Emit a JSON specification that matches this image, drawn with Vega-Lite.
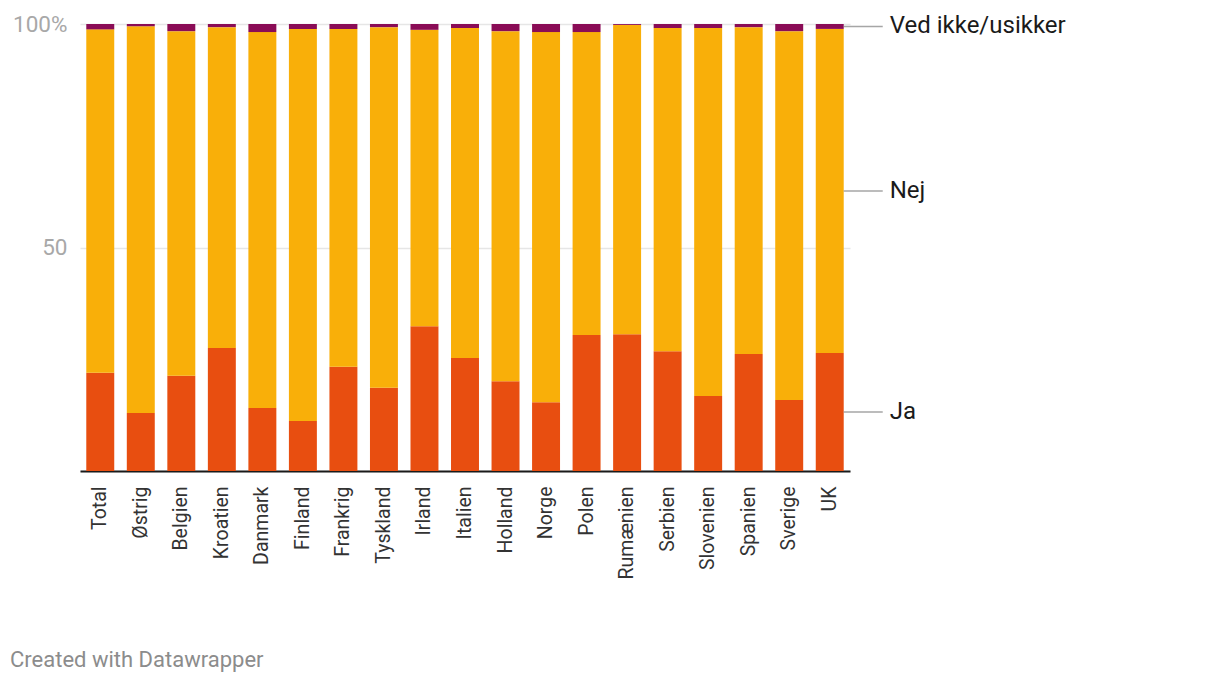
{
  "$schema": "https://vega.github.io/schema/vega-lite/v6.json",
  "width": 770,
  "height": 447,
  "autosize": "none",
  "padding": {"left": 80, "top": 24, "right": 370, "bottom": 211},
  "background": "white",
  "config": {"view": {"stroke": null}, "font": "Roboto"},
  "title": {
    "text": "Created with Datawrapper",
    "orient": "bottom",
    "anchor": "start",
    "frame": "group",
    "dx": -70,
    "offset": 71,
    "fontSize": 22,
    "fontWeight": "normal",
    "font": "Roboto",
    "color": "#8c8c8c"
  },
  "datasets": {
    "main": [
      {"land": "Total", "svar": "Ja", "pct": 22.0, "rank": 1},
      {"land": "Total", "svar": "Nej", "pct": 76.8, "rank": 2},
      {"land": "Total", "svar": "Ved ikke/usikker", "pct": 1.2, "rank": 3},
      {"land": "Østrig", "svar": "Ja", "pct": 13.0, "rank": 1},
      {"land": "Østrig", "svar": "Nej", "pct": 86.5, "rank": 2},
      {"land": "Østrig", "svar": "Ved ikke/usikker", "pct": 0.5, "rank": 3},
      {"land": "Belgien", "svar": "Ja", "pct": 21.3, "rank": 1},
      {"land": "Belgien", "svar": "Nej", "pct": 77.1, "rank": 2},
      {"land": "Belgien", "svar": "Ved ikke/usikker", "pct": 1.6, "rank": 3},
      {"land": "Kroatien", "svar": "Ja", "pct": 27.5, "rank": 1},
      {"land": "Kroatien", "svar": "Nej", "pct": 71.8, "rank": 2},
      {"land": "Kroatien", "svar": "Ved ikke/usikker", "pct": 0.7, "rank": 3},
      {"land": "Danmark", "svar": "Ja", "pct": 14.1, "rank": 1},
      {"land": "Danmark", "svar": "Nej", "pct": 84.1, "rank": 2},
      {"land": "Danmark", "svar": "Ved ikke/usikker", "pct": 1.8, "rank": 3},
      {"land": "Finland", "svar": "Ja", "pct": 11.2, "rank": 1},
      {"land": "Finland", "svar": "Nej", "pct": 87.7, "rank": 2},
      {"land": "Finland", "svar": "Ved ikke/usikker", "pct": 1.1, "rank": 3},
      {"land": "Frankrig", "svar": "Ja", "pct": 23.3, "rank": 1},
      {"land": "Frankrig", "svar": "Nej", "pct": 75.6, "rank": 2},
      {"land": "Frankrig", "svar": "Ved ikke/usikker", "pct": 1.1, "rank": 3},
      {"land": "Tyskland", "svar": "Ja", "pct": 18.6, "rank": 1},
      {"land": "Tyskland", "svar": "Nej", "pct": 80.7, "rank": 2},
      {"land": "Tyskland", "svar": "Ved ikke/usikker", "pct": 0.7, "rank": 3},
      {"land": "Irland", "svar": "Ja", "pct": 32.4, "rank": 1},
      {"land": "Irland", "svar": "Nej", "pct": 66.3, "rank": 2},
      {"land": "Irland", "svar": "Ved ikke/usikker", "pct": 1.3, "rank": 3},
      {"land": "Italien", "svar": "Ja", "pct": 25.3, "rank": 1},
      {"land": "Italien", "svar": "Nej", "pct": 73.8, "rank": 2},
      {"land": "Italien", "svar": "Ved ikke/usikker", "pct": 0.9, "rank": 3},
      {"land": "Holland", "svar": "Ja", "pct": 20.1, "rank": 1},
      {"land": "Holland", "svar": "Nej", "pct": 78.3, "rank": 2},
      {"land": "Holland", "svar": "Ved ikke/usikker", "pct": 1.6, "rank": 3},
      {"land": "Norge", "svar": "Ja", "pct": 15.4, "rank": 1},
      {"land": "Norge", "svar": "Nej", "pct": 82.8, "rank": 2},
      {"land": "Norge", "svar": "Ved ikke/usikker", "pct": 1.8, "rank": 3},
      {"land": "Polen", "svar": "Ja", "pct": 30.4, "rank": 1},
      {"land": "Polen", "svar": "Nej", "pct": 67.8, "rank": 2},
      {"land": "Polen", "svar": "Ved ikke/usikker", "pct": 1.8, "rank": 3},
      {"land": "Rumænien", "svar": "Ja", "pct": 30.6, "rank": 1},
      {"land": "Rumænien", "svar": "Nej", "pct": 69.2, "rank": 2},
      {"land": "Rumænien", "svar": "Ved ikke/usikker", "pct": 0.2, "rank": 3},
      {"land": "Serbien", "svar": "Ja", "pct": 26.8, "rank": 1},
      {"land": "Serbien", "svar": "Nej", "pct": 72.3, "rank": 2},
      {"land": "Serbien", "svar": "Ved ikke/usikker", "pct": 0.9, "rank": 3},
      {"land": "Slovenien", "svar": "Ja", "pct": 16.8, "rank": 1},
      {"land": "Slovenien", "svar": "Nej", "pct": 82.3, "rank": 2},
      {"land": "Slovenien", "svar": "Ved ikke/usikker", "pct": 0.9, "rank": 3},
      {"land": "Spanien", "svar": "Ja", "pct": 26.2, "rank": 1},
      {"land": "Spanien", "svar": "Nej", "pct": 73.1, "rank": 2},
      {"land": "Spanien", "svar": "Ved ikke/usikker", "pct": 0.7, "rank": 3},
      {"land": "Sverige", "svar": "Ja", "pct": 15.9, "rank": 1},
      {"land": "Sverige", "svar": "Nej", "pct": 82.5, "rank": 2},
      {"land": "Sverige", "svar": "Ved ikke/usikker", "pct": 1.6, "rank": 3},
      {"land": "UK", "svar": "Ja", "pct": 26.4, "rank": 1},
      {"land": "UK", "svar": "Nej", "pct": 72.5, "rank": 2},
      {"land": "UK", "svar": "Ved ikke/usikker", "pct": 1.1, "rank": 3}
    ],
    "labels": [
      {"land": "UK", "svar": "Ja", "pos": 13.2},
      {"land": "UK", "svar": "Nej", "pos": 62.65},
      {"land": "UK", "svar": "Ved ikke/usikker", "pos": 99.45}
    ]
  },
  "layer": [
    {
      "data": {"name": "main"},
      "mark": {"type": "bar"},
      "encoding": {
        "x": {
          "field": "land",
          "type": "nominal",
          "sort": null,
          "scale": {"paddingInner": 0.31, "paddingOuter": 0.155},
          "axis": {
            "title": null,
            "labelAngle": -90,
            "labelAlign": "right",
            "labelBaseline": "middle",
            "labelFontSize": 19.5,
            "labelFont": "Roboto",
            "labelColor": "#333333",
            "labelPadding": 15,
            "ticks": false,
            "domainColor": "#1a1a1a",
            "domainWidth": 2
          }
        },
        "y": {
          "field": "pct",
          "type": "quantitative",
          "stack": "zero",
          "scale": {"domain": [0, 100], "nice": false},
          "axis": {
            "title": null,
            "values": [0, 50, 100],
            "labelExpr": "datum.value == 100 ? '100%' : (datum.value == 0 ? '' : datum.label)",
            "ticks": false,
            "domain": false,
            "grid": true,
            "gridColor": "#e6e6e6",
            "gridWidth": 1.5,
            "labelColor": "#a8a8a8",
            "labelFontSize": 22.5,
            "labelFont": "Roboto",
            "labelPadding": 13,
            "labelBaseline": "middle"
          }
        },
        "color": {
          "field": "svar",
          "type": "nominal",
          "scale": {
            "domain": ["Ja", "Nej", "Ved ikke/usikker"],
            "range": ["#e84e10", "#f9af09", "#8a0c56"]
          },
          "legend": null
        },
        "order": {"field": "rank", "type": "quantitative"}
      }
    },
    {
      "data": {"name": "labels"},
      "mark": {"type": "tick", "orient": "horizontal", "xOffset": 33.5, "size": 39, "thickness": 1.5, "color": "#808080"},
      "encoding": {
        "x": {"field": "land", "type": "nominal", "sort": null},
        "y": {"field": "pos", "type": "quantitative"}
      }
    },
    {
      "data": {"name": "labels"},
      "mark": {"type": "text", "align": "left", "baseline": "middle", "dx": 60, "fontSize": 24, "font": "Roboto", "color": "#1a1a1a"},
      "encoding": {
        "x": {"field": "land", "type": "nominal", "sort": null},
        "y": {"field": "pos", "type": "quantitative"},
        "text": {"field": "svar"}
      }
    }
  ]
}
